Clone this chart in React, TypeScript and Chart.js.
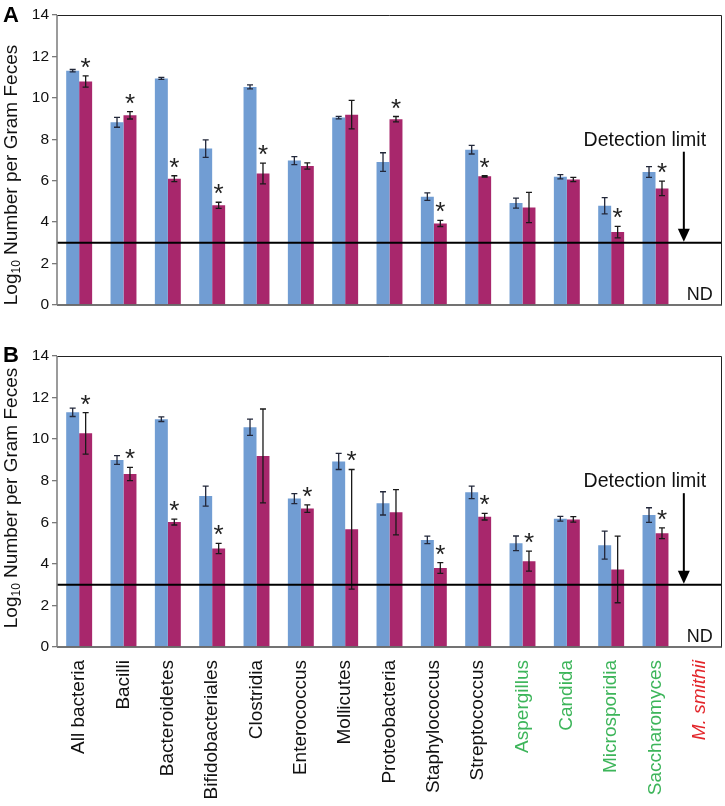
import React, { useEffect, useRef } from "react";
import { Chart, registerables } from "chart.js";
Chart.register(...registerables);

const FONT = "'Liberation Sans', Arial, Helvetica, sans-serif";

const categories = [
  "All bacteria", "Bacilli", "Bacteroidetes", "Bifidobacteriales", "Clostridia",
  "Enterococcus", "Mollicutes", "Proteobacteria", "Staphylococcus", "Streptococcus",
  "Aspergillus", "Candida", "Microsporidia", "Saccharomyces", "M. smithii",
];
const categoryGroups = [
  "bacteria", "bacteria", "bacteria", "bacteria", "bacteria",
  "bacteria", "bacteria", "bacteria", "bacteria", "bacteria",
  "fungi", "fungi", "fungi", "fungi", "archaea",
];
const yTicks = [0, 2, 4, 6, 8, 10, 12, 14];
const detectionLimit = 3;

// Panel A
const aBlue = [11.31, 8.82, 10.94, 7.55, 10.53, 6.97, 9.05, 6.9, 5.23, 7.5, 4.92, 6.19, 4.79, 6.42, null];
const aBlueErr = [0.06, 0.24, 0.05, 0.42, 0.1, 0.19, 0.06, 0.45, 0.18, 0.21, 0.24, 0.1, 0.39, 0.26, null];
const aRed = [10.79, 9.16, 6.1, 4.81, 6.35, 6.71, 9.19, 8.97, 3.94, 6.21, 4.71, 6.06, 3.52, 5.63, null];
const aRedErr = [0.27, 0.18, 0.14, 0.15, 0.5, 0.15, 0.69, 0.13, 0.15, 0.03, 0.73, 0.1, 0.28, 0.35, null];
const aStars = [true, true, true, true, true, false, false, true, true, true, false, false, true, true, false];

// Panel B
const bBlue = [11.29, 9.0, 10.96, 7.26, 10.57, 7.14, 8.93, 6.91, 5.15, 7.44, 4.99, 6.17, 4.9, 6.35, null];
const bBlueErr = [0.2, 0.21, 0.11, 0.48, 0.39, 0.24, 0.39, 0.56, 0.18, 0.3, 0.35, 0.11, 0.67, 0.35, null];
const bRed = [10.28, 8.32, 6.01, 4.74, 9.19, 6.66, 5.66, 6.48, 3.8, 6.27, 4.13, 6.14, 3.73, 5.47, null];
const bRedErr = [1.0, 0.32, 0.14, 0.25, 2.26, 0.18, 2.88, 1.09, 0.26, 0.16, 0.48, 0.13, 1.6, 0.26, null];
const bStars = [true, true, true, true, false, true, true, false, true, true, true, false, false, true, false];

const BLUE = "#719dd3";
const RED = "#a8276c";
const groupColor: Record<string, string> = { bacteria: "#111111", fungi: "#3db55a", archaea: "#e3262b" };

function makeOverlay(letter: string, blueErr: (number | null)[], redErr: (number | null)[], stars: boolean[], titleCenterY: number, letterBaseline: number) {
  return {
    id: "overlay",
    afterDatasetsDraw(chart: any) {
      const { ctx, chartArea, scales } = chart;
      const ys = scales.y;
      const xs = scales.x;
      ctx.save();
      // error bars
      [blueErr, redErr].forEach((errs, di) => {
        const meta = chart.getDatasetMeta(di);
        const vals = chart.data.datasets[di].data;
        meta.data.forEach((bar: any, i: number) => {
          const v = vals[i];
          const e = errs[i];
          if (v == null || e == null) return;
          const top = ys.getPixelForValue(v + e);
          const bot = ys.getPixelForValue(v - e);
          ctx.strokeStyle = di === 0 ? "#23283a" : "#1a1a1a";
          ctx.lineWidth = 1.3;
          ctx.beginPath();
          ctx.moveTo(bar.x, top);
          ctx.lineTo(bar.x, bot);
          ctx.moveTo(bar.x - 3, top);
          ctx.lineTo(bar.x + 3, top);
          ctx.moveTo(bar.x - 3, bot);
          ctx.lineTo(bar.x + 3, bot);
          ctx.stroke();
        });
      });
      // asterisks
      ctx.fillStyle = "#222";
      ctx.font = `26px ${FONT}`;
      ctx.textAlign = "center";
      ctx.textBaseline = "alphabetic";
      const m = ctx.measureText("*");
      const a = m.actualBoundingBoxAscent;
      const d = m.actualBoundingBoxDescent;
      const meta1 = chart.getDatasetMeta(1);
      const redVals = chart.data.datasets[1].data;
      stars.forEach((s, i) => {
        if (!s) return;
        const v = redVals[i];
        const e = redErr[i] ?? 0;
        if (v == null) return;
        const cy = ys.getPixelForValue(v + e) - 13;
        ctx.fillText("*", meta1.data[i].x, cy + (a - d) / 2);
      });
      // detection line
      const ly = ys.getPixelForValue(detectionLimit);
      ctx.strokeStyle = "#000";
      ctx.lineWidth = 2;
      ctx.beginPath();
      ctx.moveTo(chartArea.left, ly);
      ctx.lineTo(chartArea.right, ly);
      ctx.stroke();
      // arrow + label
      const lastX = xs.getPixelForValue(categories.length - 1);
      const ax = lastX - 16;
      const atop = ys.getPixelForValue(7.4);
      ctx.lineWidth = 2;
      ctx.beginPath();
      ctx.moveTo(ax, atop);
      ctx.lineTo(ax, ly - 10);
      ctx.stroke();
      ctx.fillStyle = "#000";
      ctx.beginPath();
      ctx.moveTo(ax, ly - 1);
      ctx.lineTo(ax - 6, ly - 14);
      ctx.lineTo(ax + 6, ly - 14);
      ctx.closePath();
      ctx.fill();
      ctx.font = `19.5px ${FONT}`;
      ctx.textAlign = "center";
      ctx.textBaseline = "alphabetic";
      ctx.fillStyle = "#111";
      ctx.fillText("Detection limit", ax - 39, atop - 6);
      ctx.font = `18px ${FONT}`;
      ctx.fillText("ND", lastX, chartArea.bottom - 5);
      // frame
      ctx.lineWidth = 1;
      ctx.strokeStyle = "#222";
      ctx.beginPath();
      ctx.moveTo(chartArea.left, chartArea.top + 0.5);
      ctx.lineTo(chartArea.right - 0.5, chartArea.top + 0.5);
      ctx.lineTo(chartArea.right - 0.5, chartArea.bottom);
      ctx.stroke();
      ctx.strokeStyle = "#444";
      ctx.lineWidth = 1.3;
      ctx.beginPath();
      ctx.moveTo(chartArea.left, chartArea.bottom);
      ctx.lineTo(chartArea.right, chartArea.bottom);
      ctx.stroke();
      ctx.strokeStyle = "#7a7a7a";
      ctx.lineWidth = 1.5;
      ctx.beginPath();
      ctx.moveTo(chartArea.left, chartArea.top);
      ctx.lineTo(chartArea.left, chartArea.bottom);
      ctx.stroke();
      // panel letter
      ctx.fillStyle = "#000";
      ctx.textAlign = "left";
      ctx.font = `bold 22px ${FONT}`;
      ctx.fillText(letter, 3, letterBaseline);
      // y title with subscript
      ctx.save();
      ctx.translate(17, titleCenterY);
      ctx.rotate(-Math.PI / 2);
      const mainF = `19px ${FONT}`;
      const subF = `12px ${FONT}`;
      ctx.font = mainF;
      const w1 = ctx.measureText("Log").width;
      const rest = " Number per Gram Feces";
      const w3 = ctx.measureText(rest).width;
      ctx.font = subF;
      const w2 = ctx.measureText("10").width;
      const start = -(w1 + w2 + w3) / 2;
      ctx.textAlign = "left";
      ctx.fillStyle = "#111";
      ctx.font = mainF;
      ctx.fillText("Log", start, 0);
      ctx.font = subF;
      ctx.fillText("10", start + w1, 3);
      ctx.font = mainF;
      ctx.fillText(rest, start + w1 + w2, 0);
      ctx.restore();
      ctx.restore();
    },
  };
}

type PanelProps = {
  letter: string;
  blue: (number | null)[];
  blueErr: (number | null)[];
  red: (number | null)[];
  redErr: (number | null)[];
  stars: boolean[];
  showX: boolean;
  height: number;
  padTop: number;
  padBottom: number;
  xHeight: number;
  titleCenterY: number;
  letterBaseline: number;
  top: number;
};

function Panel(p: PanelProps) {
  const ref = useRef<HTMLCanvasElement>(null);
  useEffect(() => {
    if (!ref.current) return;
    const chart = new Chart(ref.current, {
      type: "bar",
      data: {
        labels: categories,
        datasets: [
          { data: p.blue as any, backgroundColor: BLUE, borderWidth: 0, categoryPercentage: 0.585, barPercentage: 1 },
          { data: p.red as any, backgroundColor: RED, borderWidth: 0, categoryPercentage: 0.585, barPercentage: 1 },
        ],
      },
      options: {
        responsive: false,
        animation: false,
        layout: { padding: { top: p.padTop, bottom: p.padBottom, left: 0, right: 3 } },
        plugins: { legend: { display: false }, tooltip: { enabled: false }, title: { display: false } },
        scales: {
          x: {
            display: p.showX,
            grid: { display: false },
            border: { display: false },
            ticks: {
              autoSkip: false,
              minRotation: 90,
              maxRotation: 90,
              padding: 5,
              color: (c: any) => groupColor[categoryGroups[c.index]],
              font: (c: any) => ({ size: 19, family: FONT, style: categoryGroups[c.index] === "archaea" ? "italic" : "normal" }),
            },
            afterFit: (s: any) => {
              s.height = p.xHeight;
              s.paddingLeft = 0;
              s.paddingRight = 0;
            },
          },
          y: {
            min: 0,
            max: 14,
            afterBuildTicks: (s: any) => { s.ticks = yTicks.map((v) => ({ value: v })); },
            grid: { drawOnChartArea: false, drawTicks: true, tickLength: 5, color: "#7a7a7a", lineWidth: 1.3 },
            border: { display: false },
            ticks: { color: "#111", font: { size: 15.5, family: FONT }, padding: 3 },
            afterFit: (s: any) => { s.width = 57; },
          },
        },
      },
      plugins: [makeOverlay(p.letter, p.blueErr, p.redErr, p.stars, p.titleCenterY, p.letterBaseline)],
    });
    return () => chart.destroy();
  }, []);
  return (
    <canvas
      ref={ref}
      width={725}
      height={p.height}
      style={{ position: "absolute", left: 0, top: p.top, width: 725, height: p.height, display: "block" }}
    />
  );
}

export default function App() {
  return (
    <div style={{ position: "absolute", left: 0, top: 0, width: 725, height: 806, background: "#fff", overflow: "hidden" }}>
      <Panel letter="A" blue={aBlue} blueErr={aBlueErr} red={aRed} redErr={aRedErr} stars={aStars}
        showX={false} height={320} padTop={15} padBottom={15} xHeight={0} titleCenterY={175} letterBaseline={22} top={0} />
      <Panel letter="B" blue={bBlue} blueErr={bBlueErr} red={bRed} redErr={bRedErr} stars={bStars}
        showX={true} height={486} padTop={36} padBottom={0} xHeight={159} titleCenterY={178} letterBaseline={42} top={320} />
    </div>
  );
}
